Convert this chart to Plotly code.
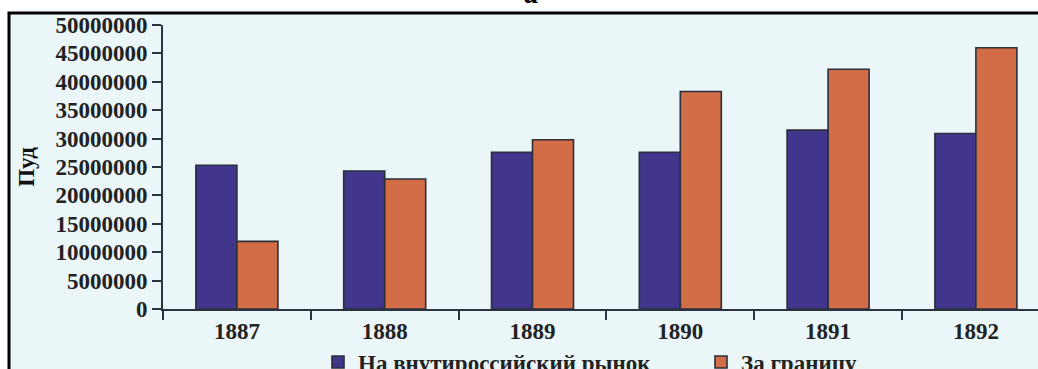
import plotly.graph_objects as go

# Shipments of grain, in pud
years = ["1887", "1888", "1889", "1890", "1891", "1892"]
domestic = [25300000, 24300000, 27600000, 27600000, 31500000, 30900000]
abroad = [11900000, 22900000, 29800000, 38300000, 42200000, 46000000]
y_ticks = [0, 5000000, 10000000, 15000000, 20000000, 25000000,
           30000000, 35000000, 40000000, 45000000, 50000000]

W, H = 1038, 369
L, T, B = 163, 25, 60

serif = "Liberation Serif"
bg = "#eaf6f8"
edge = "#2a2f3a"
axis_col = "#2c3340"
text_col = "#222222"

fig = go.Figure()
fig.add_trace(go.Bar(
    x=years, y=domestic, name="На внутироссийский рынок",
    marker=dict(color="#41368b", line=dict(color=edge, width=1.6)),
    legend="legend",
))
fig.add_trace(go.Bar(
    x=years, y=abroad, name="За границу",
    marker=dict(color="#d26d47", line=dict(color=edge, width=1.6)),
    legend="legend2",
))

plot_w = W - L
plot_h = H - T - B
cat_px = 147.8
x_end = -0.5 + plot_w / cat_px

legend_y = -(362 - (H - B)) / plot_h
legend_font = dict(family=serif, size=23, color=text_col, weight="bold")

fig.update_layout(
    width=W, height=H,
    margin=dict(l=L, r=0, t=T, b=B, pad=0, autoexpand=False),
    paper_bgcolor="white",
    plot_bgcolor="rgba(0,0,0,0)",
    barmode="group",
    bargap=0.445,
    bargroupgap=0,
    font=dict(family=serif, color=text_col),
    xaxis=dict(
        range=[-0.5, x_end],
        showline=True, linecolor=axis_col, linewidth=2,
        ticks="outside", tickson="boundaries", ticklen=9, tickwidth=2,
        tickcolor=axis_col,
        tickfont=dict(family=serif, size=23, color=text_col, weight="bold"),
        showgrid=False, zeroline=False,
    ),
    yaxis=dict(
        range=[0, 50000000],
        tickvals=y_ticks,
        ticktext=[str(v) for v in y_ticks],
        showline=True, linecolor=axis_col, linewidth=2,
        ticks="outside", ticklen=9, tickwidth=2, tickcolor=axis_col,
        tickfont=dict(family=serif, size=23, color=text_col, weight="bold"),
        showgrid=False, zeroline=False,
        title=dict(text="Пуд", standoff=14,
                   font=dict(family=serif, size=23, color="#111111", weight="bold")),
    ),
    showlegend=True,
    legend=dict(
        orientation="h",
        x=(318 - L) / plot_w, xanchor="left",
        y=legend_y, yanchor="middle",
        bgcolor="rgba(0,0,0,0)", font=legend_font,
    ),
    legend2=dict(
        orientation="h",
        x=(701 - L) / plot_w, xanchor="left",
        y=legend_y, yanchor="middle",
        bgcolor="rgba(0,0,0,0)", font=legend_font,
    ),
)

# Panel background with its black frame
fig.add_shape(
    type="rect", xref="paper", yref="paper", layer="below",
    x0=-(L - 9) / plot_w, x1=1.02,
    y0=-(H - B + 40) / plot_h, y1=1 + (T - 13) / plot_h,
    fillcolor=bg, line=dict(color="black", width=3),
)

# Panel letter above the frame
fig.add_annotation(
    text="<i>а</i>", xref="paper", yref="paper",
    x=(531 - L) / plot_w, y=1 + (T + 8) / plot_h,
    xanchor="center", yanchor="middle", showarrow=False,
    font=dict(family=serif, size=30, color="black", weight="bold"),
)

fig.write_html("out.html")
